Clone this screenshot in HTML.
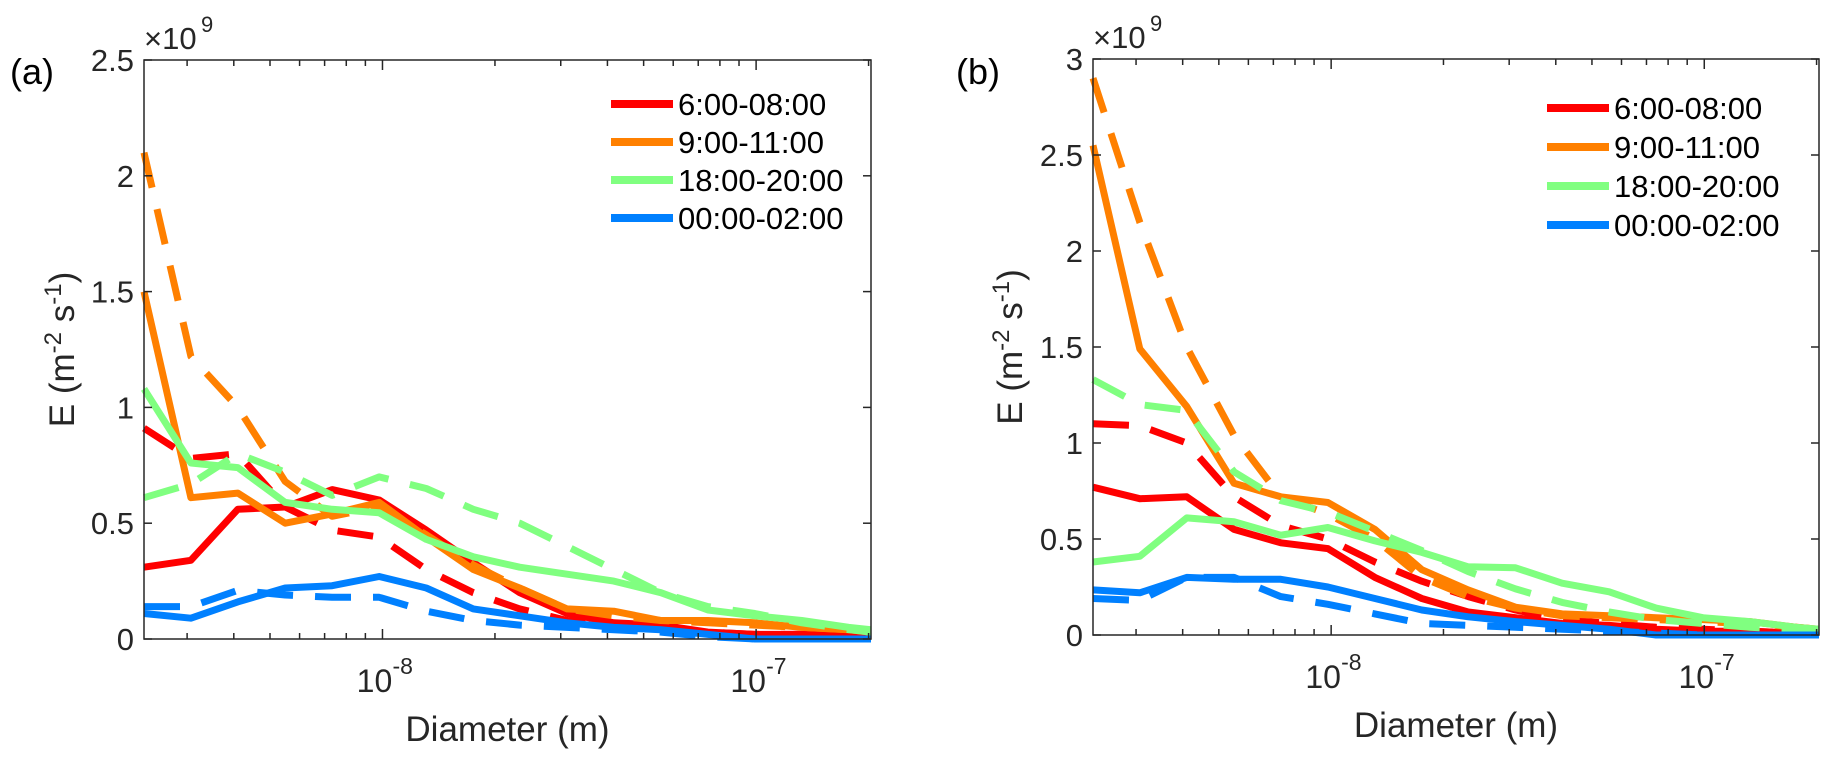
<!DOCTYPE html>
<html><head><meta charset="utf-8"><style>
body{margin:0;background:#fff;}
svg{display:block;font-family:"Liberation Sans",Arial,sans-serif;}
</style></head><body>
<svg id="chart" width="1836" height="761" viewBox="0 0 1836 761"></svg>
<script>
const diameters=[2.3e-9,3.07e-9,4.1e-9,5.49e-9,7.33e-9,9.8e-9,1.31e-8,1.75e-8,2.33e-8,3.12e-8,4.16e-8,5.56e-8,7.43e-8,9.92e-8,1.325e-7,1.77e-7,2.03e-7];
const seriesNames=["6:00-08:00","9:00-11:00","18:00-20:00","00:00-02:00"];
const seriesColors=["#ff0000","#ff8000","#80ff80","#0080ff"];
// panel a (units 1e9)
const aRedSolid=[0.31,0.34,0.56,0.57,0.645,0.60,0.47,0.33,0.20,0.11,0.07,0.06,0.03,0.02,0.02,0.02,0.02];
const aRedDash=[0.91,0.78,0.80,0.57,0.47,0.44,0.30,0.20,0.13,0.08,0.06,0.05,0.03,0.02,0.02,0.01,0.01];
const aOrangeSolid=[1.5,0.61,0.63,0.50,0.54,0.59,0.44,0.30,0.22,0.13,0.12,0.08,0.08,0.07,0.05,0.04,0.03];
const aOrangeDash=[2.1,1.22,1.0,0.68,0.53,0.57,0.45,0.32,0.22,0.13,0.10,0.08,0.07,0.06,0.05,0.04,0.03];
const aGreenSolid=[1.08,0.76,0.74,0.59,0.56,0.545,0.43,0.355,0.31,0.28,0.25,0.20,0.125,0.10,0.08,0.05,0.04];
const aGreenDash=[0.61,0.67,0.80,0.72,0.62,0.70,0.65,0.56,0.50,0.40,0.30,0.20,0.14,0.11,0.07,0.04,0.03];
const aBlueSolid=[0.11,0.09,0.16,0.22,0.23,0.27,0.22,0.13,0.10,0.07,0.05,0.04,0.02,0.0,0.0,0.0,0.0];
const aBlueDash=[0.14,0.14,0.21,0.19,0.18,0.18,0.12,0.08,0.06,0.05,0.04,0.03,0.01,0.0,0.0,0.0,0.0];
// panel b
const bRedSolid=[0.77,0.71,0.72,0.55,0.48,0.45,0.30,0.19,0.12,0.09,0.06,0.05,0.03,0.02,0.02,0.01,0.01];
const bRedDash=[1.10,1.09,1.00,0.72,0.57,0.50,0.38,0.28,0.20,0.13,0.08,0.06,0.04,0.03,0.02,0.01,0.01];
const bOrangeSolid=[2.55,1.49,1.19,0.79,0.72,0.69,0.55,0.34,0.235,0.145,0.11,0.10,0.09,0.08,0.07,0.04,0.03];
const bOrangeDash=[2.9,2.15,1.5,1.04,0.72,0.63,0.50,0.30,0.20,0.14,0.10,0.09,0.08,0.07,0.06,0.04,0.03];
const bGreenSolid=[0.38,0.41,0.61,0.59,0.52,0.56,0.49,0.43,0.355,0.35,0.27,0.225,0.14,0.09,0.07,0.04,0.03];
const bGreenDash=[1.33,1.20,1.17,0.85,0.70,0.64,0.54,0.44,0.33,0.24,0.17,0.12,0.08,0.06,0.04,0.03,0.03];
const bBlueSolid=[0.235,0.22,0.30,0.29,0.29,0.25,0.19,0.13,0.095,0.07,0.05,0.03,0.0,0.0,0.0,0.0,0.0];
const bBlueDash=[0.19,0.18,0.30,0.30,0.20,0.16,0.11,0.06,0.05,0.04,0.03,0.02,0.01,0.0,0.0,0.0,0.0];
const aYTicks=[0,0.5,1,1.5,2,2.5];
const aYLabels=["0","0.5","1","1.5","2","2.5"];
const bYTicks=[0,0.5,1,1.5,2,2.5,3];
const bYLabels=["0","0.5","1","1.5","2","2.5","3"];

const NS="http://www.w3.org/2000/svg";
const svg=document.getElementById('chart');
function mk(tag,attrs,parent){const e=document.createElementNS(NS,tag);for(const k in attrs)e.setAttribute(k,attrs[k]);(parent||svg).appendChild(e);return e;}

function panel(cfg){
  const g=mk('g',{});
  
  
  const L=cfg.left,R=cfg.right,T=cfg.top,B=cfg.bottom;
  const lx0=Math.log10(2.3e-9),lx1=Math.log10(2.03e-7);
  const X=d=>L+(Math.log10(d)-lx0)/(lx1-lx0)*(R-L);
  const Y=v=>B-v/cfg.ymax*(B-T);
  cfg.series.forEach((s,i)=>{
    const pts=diameters.map((d,k)=>X(d).toFixed(1)+','+Y(s.vals[k]).toFixed(1)).join(' ');
    const p=mk('polyline',{points:pts,fill:'none',stroke:s.color,'stroke-width':7,'stroke-linejoin':'round'},g);
    if(s.dash)p.setAttribute('stroke-dasharray','36 22');
    
    
  });
  const box=mk('rect',{x:L,y:T,width:R-L,height:B-T,fill:'none',stroke:'#262626','stroke-width':1.5},g);
  
  
  cfg.yticks.forEach((v,i)=>{
    const y=Y(v);
    mk('line',{x1:L,x2:L+8,y1:y,y2:y,stroke:'#262626','stroke-width':1.5},g);
    mk('line',{x1:R,x2:R-8,y1:y,y2:y,stroke:'#262626','stroke-width':1.5},g);
    const t=mk('text',{x:L-10,y:y+11,'text-anchor':'end','font-size':31,fill:'#262626'},g);
    t.textContent=cfg.ylabels[i];
    
    
  });
  for(let e=-9;e<=-7;e++){for(let m=1;m<=9;m++){
    const d=m*Math.pow(10,e);
    if(d<2.3e-9||d>2.03e-7)continue;
    const x=X(d);const len=m===1?10:6;
    mk('line',{x1:x,x2:x,y1:B,y2:B-len,stroke:'#262626','stroke-width':1.5},g);
    mk('line',{x1:x,x2:x,y1:T,y2:T+len,stroke:'#262626','stroke-width':1.5},g);
    if(m===1){
      const t=mk('text',{x:x-8,y:B+53,'text-anchor':'middle','font-size':32,fill:'#262626'},g);
      t.textContent='10';
      
      
      const s=mk('text',{x:x+10,y:B+35,'text-anchor':'start','font-size':23,fill:'#262626'},g);
      s.textContent=String(e);
    }
  }}
  const mul=mk('text',{x:L,y:T-11,'font-size':31,fill:'#262626'},g);
  mul.textContent='×10';
  
  
  const mex=mk('text',{x:L+57,y:T-28,'font-size':22,fill:'#262626'},g);
  mex.textContent='9';
  const pl=mk('text',{x:cfg.labelX,y:84,'font-size':36,fill:'#000'},g);
  pl.textContent='('+cfg.id+')';
  
  
  const xt=mk('text',{x:(L+R)/2,y:B+102,'text-anchor':'middle','font-size':35,fill:'#262626'},g);
  xt.textContent='Diameter (m)';
  
  
  const yt=mk('text',{transform:`translate(${cfg.ytitleX},${(T+B)/2}) rotate(-90)`,'text-anchor':'middle','font-size':35,fill:'#262626'},g);
  yt.innerHTML='E (m<tspan dy="-13" font-size="24">-2</tspan><tspan dy="13"> s</tspan><tspan dy="-13" font-size="24">-1</tspan><tspan dy="13">)</tspan>';
  
  
  seriesNames.forEach((n,i)=>{
    const y=cfg.legY+i*cfg.legDy;
    const lg=mk('g',{},g);
    
    
    mk('line',{x1:cfg.legX,x2:cfg.legX+62,y1:y,y2:y,stroke:seriesColors[i],'stroke-width':8},lg);
    const t=mk('text',{x:cfg.legX+67,y:y+11,'font-size':31,fill:'#000'},lg);
    t.textContent=n;
  });
}
panel({id:'a',left:144,right:871,top:60,bottom:639,ymax:2.5,yticks:aYTicks,ylabels:aYLabels,labelX:10,ytitleX:74,legX:611,legY:104,legDy:38,
  series:[{name:'red-solid',vals:aRedSolid,color:seriesColors[0]},{name:'red-dashed',vals:aRedDash,color:seriesColors[0],dash:1},
  {name:'orange-solid',vals:aOrangeSolid,color:seriesColors[1]},{name:'orange-dashed',vals:aOrangeDash,color:seriesColors[1],dash:1},
  {name:'green-solid',vals:aGreenSolid,color:seriesColors[2]},{name:'green-dashed',vals:aGreenDash,color:seriesColors[2],dash:1},
  {name:'blue-solid',vals:aBlueSolid,color:seriesColors[3]},{name:'blue-dashed',vals:aBlueDash,color:seriesColors[3],dash:1}]});
panel({id:'b',left:1093,right:1819,top:59,bottom:635,ymax:3,yticks:bYTicks,ylabels:bYLabels,labelX:956,ytitleX:1022,legX:1547,legY:108,legDy:39,
  series:[{name:'red-solid',vals:bRedSolid,color:seriesColors[0]},{name:'red-dashed',vals:bRedDash,color:seriesColors[0],dash:1},
  {name:'orange-solid',vals:bOrangeSolid,color:seriesColors[1]},{name:'orange-dashed',vals:bOrangeDash,color:seriesColors[1],dash:1},
  {name:'green-solid',vals:bGreenSolid,color:seriesColors[2]},{name:'green-dashed',vals:bGreenDash,color:seriesColors[2],dash:1},
  {name:'blue-solid',vals:bBlueSolid,color:seriesColors[3]},{name:'blue-dashed',vals:bBlueDash,color:seriesColors[3],dash:1}]});
</script>
</body></html>
